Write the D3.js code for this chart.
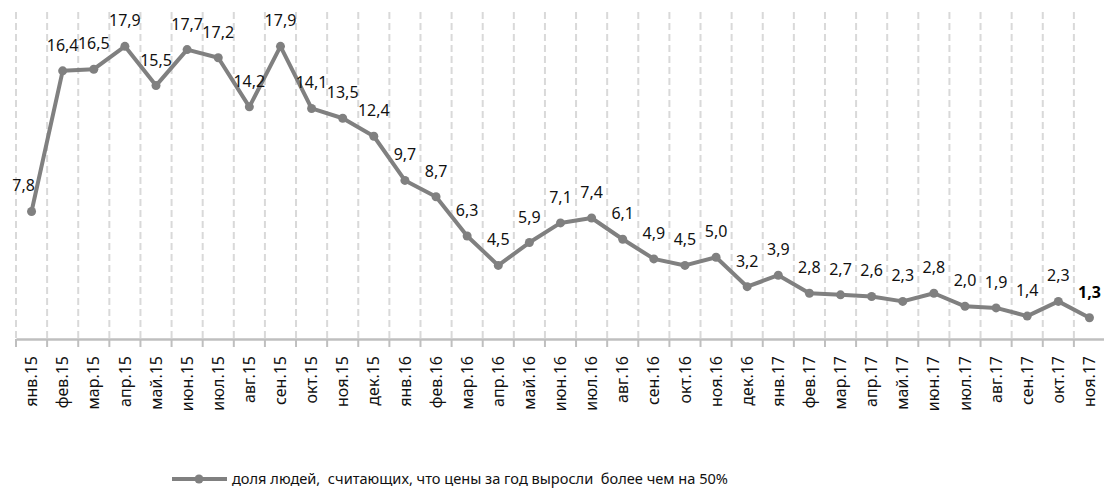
<!DOCTYPE html>
<html>
<head>
<meta charset="utf-8">
<script src="https://cdn.jsdelivr.net/npm/d3@7"></script>
<style>
  body { margin: 0; background: #fff; }
  text { font-family: "Noto Sans", "Open Sans", sans-serif; fill: #111; }
</style>
</head>
<body>
<div id="chart"></div>
<script>
var svgWidth = 1104;
var svgHeight = 488;

var months = ['янв.15', 'фев.15', 'мар.15', 'апр.15', 'май.15', 'июн.15', 'июл.15', 'авг.15', 'сен.15', 'окт.15', 'ноя.15', 'дек.15',
  'янв.16', 'фев.16', 'мар.16', 'апр.16', 'май.16', 'июн.16', 'июл.16', 'авг.16', 'сен.16', 'окт.16', 'ноя.16', 'дек.16',
  'янв.17', 'фев.17', 'мар.17', 'апр.17', 'май.17', 'июн.17', 'июл.17', 'авг.17', 'сен.17', 'окт.17', 'ноя.17'];

var shares = [7.8, 16.4, 16.5, 17.9, 15.5, 17.7, 17.2, 14.2, 17.9, 14.1, 13.5, 12.4,
  9.7, 8.7, 6.3, 4.5, 5.9, 7.1, 7.4, 6.1, 4.9, 4.5, 5.0, 3.2,
  3.9, 2.8, 2.7, 2.6, 2.3, 2.8, 2.0, 1.9, 1.4, 2.3, 1.3];

var seriesName = 'доля людей,  считающих, что цены за год выросли  более чем на 50%';

var data = months.map((m, i) => ({ month: m, value: shares[i] }));

var svg = d3.select('#chart')
  .append('svg')
  .attr('width', svgWidth)
  .attr('height', svgHeight);

var x = d3.scaleBand()
  .domain(months)
  .range([16, 1105]);

var y = d3.scaleLinear()
  .domain([0, 20])
  .range([339, 12]);

var cx = d => x(d.month) + x.bandwidth() / 2;

// dashed vertical gridlines at category boundaries
var bounds = months.map(m => x(m));
svg.append('g')
  .selectAll('line')
  .data(bounds)
  .enter()
  .append('line')
  .attr('x1', d => d).attr('x2', d => d)
  .attr('y1', y(20)).attr('y2', y(0))
  .attr('stroke', '#d9d9d9')
  .attr('stroke-width', 2)
  .attr('stroke-dasharray', '7,4');

// x axis
var xAxis = svg.append('g')
  .attr('transform', `translate(0, ${y(0)})`)
  .call(d3.axisBottom(x).tickSize(0).tickFormat(''));
xAxis.select('.domain').attr('stroke', '#bfbfbf').attr('stroke-width', 2.5);

svg.append('g')
  .selectAll('line')
  .data(bounds)
  .enter()
  .append('line')
  .attr('x1', d => d).attr('x2', d => d)
  .attr('y1', y(0)).attr('y2', y(0) + 8)
  .attr('stroke', '#bfbfbf')
  .attr('stroke-width', 2);

svg.append('g')
  .selectAll('text')
  .data(months)
  .enter()
  .append('text')
  .attr('transform', d => `translate(${x(d) + x.bandwidth() / 2}, 356) rotate(-90)`)
  .attr('text-anchor', 'end')
  .attr('dy', '0.35em')
  .style('font-size', '16px')
  .text(d => d);

// line + markers
var line = d3.line()
  .x(cx)
  .y(d => y(d.value));

svg.append('path')
  .datum(data)
  .attr('d', line)
  .attr('fill', 'none')
  .attr('stroke', '#808080')
  .attr('stroke-width', 4)
  .attr('stroke-linejoin', 'round');

svg.append('g')
  .selectAll('circle')
  .data(data)
  .enter()
  .append('circle')
  .attr('cx', cx)
  .attr('cy', d => y(d.value))
  .attr('r', 4.5)
  .attr('fill', '#808080');

// value labels
svg.append('g')
  .selectAll('text')
  .data(data)
  .enter()
  .append('text')
  .attr('x', (d, i) => cx(d) - (i === 0 ? 8 : 0))
  .attr('y', d => y(d.value) - 20)
  .attr('text-anchor', 'middle')
  .style('font-size', '16px')
  .style('font-weight', (d, i) => i === data.length - 1 ? 'bold' : 'normal')
  .style('fill', (d, i) => i === data.length - 1 ? '#000' : '#111')
  .text(d => d3.format('.1f')(d.value).replace('.', ','));

// legend
var legend = svg.append('g');
legend.append('line')
  .attr('x1', 172).attr('x2', 227)
  .attr('y1', 479).attr('y2', 479)
  .attr('stroke', '#808080')
  .attr('stroke-width', 4);
legend.append('circle')
  .attr('cx', 199).attr('cy', 479)
  .attr('r', 4.5)
  .attr('fill', '#808080');
legend.append('text')
  .attr('x', 232).attr('y', 479)
  .attr('dy', '0.35em')
  .style('font-size', '14.6px')
  .style('white-space', 'pre')
  .text(seriesName);
</script>
</body>
</html>
